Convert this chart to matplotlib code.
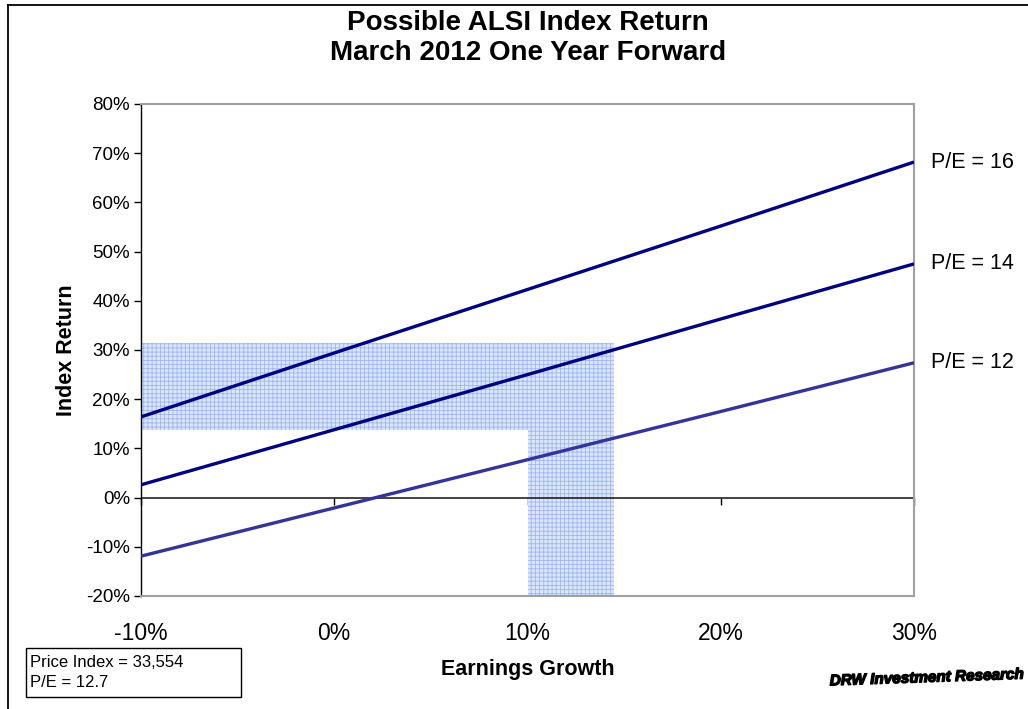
import matplotlib
matplotlib.use("Agg")
import matplotlib.pyplot as plt
from matplotlib.patches import Polygon, Rectangle
from matplotlib.lines import Line2D
from matplotlib.ticker import FuncFormatter, MultipleLocator
import matplotlib.patheffects as pe

plt.rcParams['font.family'] = ['Liberation Sans', 'DejaVu Sans']
plt.rcParams['hatch.linewidth'] = 0.6

# ---- data ----
growth = [-10, 0, 10, 20, 30]
ret_pe16 = [16.4, 29.4, 42.3, 55.2, 68.2]
ret_pe14 = [2.6, 13.8, 25.0, 36.3, 47.5]
ret_pe12 = [-11.9, -2.1, 7.7, 17.5, 27.4]
series_labels = ["P/E = 16", "P/E = 14", "P/E = 12"]
series_colors = ["#000080", "#000080", "#333399"]

# shaded region (expected outcome zone)
band_x0, band_x1 = -10, 14.5        # horizontal band growth range
band_y0, band_y1 = 13.7, 31.4       # horizontal band return range
vband_x0 = 10                       # vertical band starts at this growth
y_min, y_max = -20, 80
x_min, x_max = -10, 30

title = "Possible ALSI Index Return\nMarch 2012 One Year Forward"
xlabel = "Earnings Growth"
ylabel = "Index Return"
info_text = "Price Index = 33,554\nP/E = 12.7"
brand = "DRW Investment Research"

W, H = 1028, 709
fig = plt.figure(figsize=(W / 100, H / 100), dpi=100)
ax = fig.add_axes([141 / W, 1 - 596 / H, (914 - 141) / W, (596 - 104) / H])

# shaded L-shaped region
verts = [(band_x0, band_y0), (band_x0, band_y1), (band_x1, band_y1),
         (band_x1, y_min), (vband_x0, y_min), (vband_x0, band_y0)]
poly = Polygon(verts, closed=True, facecolor="#dbe5fc", edgecolor="#9fb7f0",
               hatch="++++", linewidth=0, zorder=1)
ax.add_patch(poly)

# zero line
ax.axhline(0, color="#222222", lw=1.2, zorder=2)

for ys, lab, col in zip([ret_pe16, ret_pe14, ret_pe12], series_labels, series_colors):
    ax.plot(growth, ys, color=col, lw=2.4, zorder=3, solid_capstyle="butt")
    ax.annotate(lab, xy=(growth[-1], ys[-1]), xytext=(12, 0),
                textcoords="offset points", va="center", ha="left",
                fontsize=15.5, annotation_clip=False)

ax.set_xlim(x_min, x_max)
ax.set_ylim(y_min, y_max)
ax.xaxis.set_major_locator(MultipleLocator(10))
ax.yaxis.set_major_locator(MultipleLocator(10))
ax.xaxis.set_major_formatter(FuncFormatter(lambda v, p: f"{v:.0f}%"))
ax.yaxis.set_major_formatter(FuncFormatter(lambda v, p: f"{v:.0f}%"))
ax.tick_params(axis="x", length=0, pad=19, labelsize=16.5)
ax.tick_params(axis="y", direction="out", length=5, width=1, labelsize=13.5, pad=3)

for s in ["top", "right", "bottom"]:
    ax.spines[s].set_color("#a0a0a0")
    ax.spines[s].set_linewidth(1.5)
ax.spines["left"].set_color("black")
ax.spines["left"].set_linewidth(1.0)

# tick marks on zero line
sec = ax.secondary_xaxis(0.2)
sec.xaxis.set_major_locator(MultipleLocator(10))
sec.tick_params(axis="x", direction="out", length=5, labelbottom=False, width=1)
sec.spines["bottom"].set_visible(False)

ax.set_xlabel(xlabel, fontsize=15.5, fontweight="bold")
ax.xaxis.set_label_coords(0.5, -(670 - 596) / (596 - 104))
ax.set_ylabel(ylabel, fontsize=15.5, fontweight="bold")
ax.yaxis.set_label_coords(-(141 - 66) / (914 - 141), 0.5)
ax.xaxis.label.set_va("center")
ax.yaxis.label.set_va("center")

fig.text(528 / W, 1 - 38 / H, title, ha="center", va="center",
         fontsize=20, fontweight="bold", linespacing=1.25)

# figure frame (left and top)
fig.add_artist(Line2D([8 / W, 8 / W], [0, 1 - 5 / H], color="black", lw=1.3,
                      transform=fig.transFigure))
fig.add_artist(Line2D([8 / W, 1], [1 - 5 / H, 1 - 5 / H], color="black", lw=1.3,
                      transform=fig.transFigure))

# info box
fig.add_artist(Rectangle((26 / W, 1 - 697 / H), (241 - 26) / W, (697 - 648) / H,
                         transform=fig.transFigure, fill=False, edgecolor="black", lw=1))
fig.text(30 / W, 1 - 672.5 / H, info_text, ha="left", va="center", fontsize=12,
         linespacing=1.4)

t = fig.text(1024 / W, 1 - 678 / H, brand, ha="right", va="center", fontsize=11,
             fontweight="heavy", fontstyle="italic", rotation=2)
t.set_path_effects([pe.withStroke(linewidth=1.0, foreground="black")])

fig.savefig("out.png", dpi=100)
